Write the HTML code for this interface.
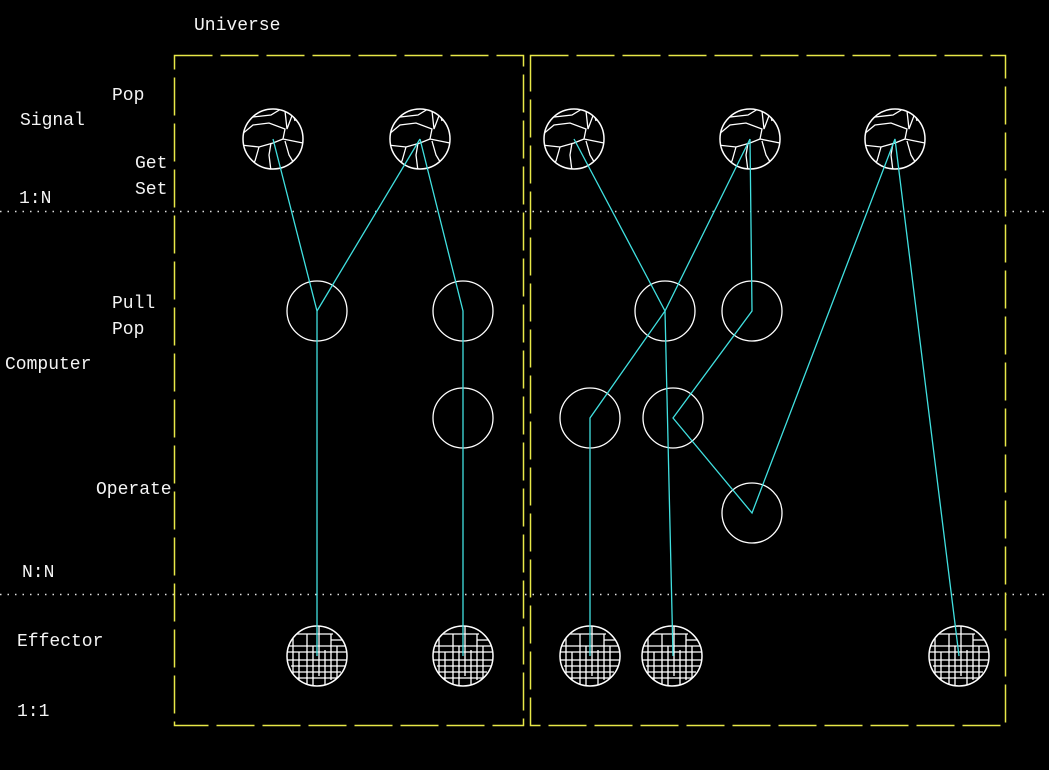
<!DOCTYPE html>
<html><head><meta charset="utf-8"><style>
html,body{margin:0;padding:0;background:#000;}
svg text{font-family:"Liberation Mono","Noto Sans CJK SC",monospace;font-size:18px;fill:#f4f4f4;}
</style></head><body>
<svg id="d" width="1049" height="765" viewBox="0 0 1049 765" xmlns="http://www.w3.org/2000/svg">
<rect width="1049" height="765" fill="#000"/>
<line x1="0" y1="211.5" x2="1049" y2="211.5" stroke="#ddd" stroke-width="1.5" stroke-dasharray="1.5 6"/>
<line x1="0" y1="594.5" x2="1049" y2="594.5" stroke="#ddd" stroke-width="1.5" stroke-dasharray="1.5 6"/>
<rect x="174.5" y="55.5" width="349" height="670" fill="none" stroke="#e8e848" stroke-width="1.5" stroke-dasharray="38 8"/>
<rect x="530.5" y="55.5" width="475" height="670" fill="none" stroke="#e8e848" stroke-width="1.5" stroke-dasharray="38 8"/>
<text x="194" y="30">Universe</text>
<text x="112" y="100">Pop</text>
<text x="20" y="125">Signal</text>
<text x="135" y="168">Get</text>
<text x="135" y="194">Set</text>
<text x="19" y="203">1:N</text>
<text x="112" y="308">Pull</text>
<text x="112" y="334">Pop</text>
<text x="5" y="369">Computer</text>
<text x="96" y="494">Operate</text>
<text x="22" y="577">N:N</text>
<text x="17" y="646">Effector</text>
<text x="17" y="716">1:1</text>
<g id="nodes"></g>
<g id="links"></g>
</svg>
<script>
const NS="http://www.w3.org/2000/svg";
const signals=[[273,139],[420,139],[574,139],[750,139],[895,139]];
const computers=[[317,311],[463,311],[665,311],[752,311],[463,418],[590,418],[673,418],[752,513]];
const effectors=[[317,656],[463,656],[590,656],[672,656],[959,656]];
const paths=[
 [[273,139],[317,311],[317,656]],
 [[420,139],[317,311]],
 [[420,139],[463,311],[463,656]],
 [[574,139],[665,311],[590,418],[590,656]],
 [[750,139],[665,311],[673,656]],
 [[750,139],[752,311],[673,418],[752,513],[895,139],[959,656]]
];
const nodes=document.getElementById('nodes'),links=document.getElementById('links');
function mk(t,a,p){const e=document.createElementNS(NS,t);for(const k in a)e.setAttribute(k,a[k]);p.appendChild(e);return e;}
const R=30;
signals.forEach((c,i)=>{
 const g=mk('g',{},nodes);
 
 
 const [x,y]=c;
 const cp=mk('clipPath',{id:'sp'+i},g);
 mk('circle',{cx:x,cy:y,r:R},cp);
 const inner=mk('g',{'clip-path':'url(#sp'+i+')',fill:'none',stroke:'#fff','stroke-width':1.3},g);
 const cells=[[[-20,-32],[-20,-22],[-2,-24],[8,-30]],[[-32,-4],[-20,-14],[-4,-16],[12,-10],[10,0],[30,4]],[[12,-28],[14,-10],[20,-26],[22,-18]],[[-32,6],[-14,8],[0,4],[10,0]],[[-2,4],[-4,16],[-2,32]],[[-14,8],[-18,22],[-24,26]],[[12,2],[16,16],[22,26]]];
 cells.forEach(pl=>mk('polyline',{points:pl.map(q=>(x+q[0])+','+(y+q[1])).join(' ')},inner));
 mk('circle',{cx:x,cy:y,r:R,fill:'none',stroke:'#fff','stroke-width':1.5},g);
});
computers.forEach(c=>{
 const e=mk('circle',{cx:c[0],cy:c[1],r:R,fill:'none',stroke:'#fff','stroke-width':1.3},nodes);
 
 
});
const vl=[[-24,-22,30],[-10,-22,30],[-4,-10,30],[2,-30,20],[8,-6,30],[14,-22,24],[20,-10,26],[-18,-4,24]];
const hl=[[-22,-24,16],[-10,-30,28],[-4,-30,30],[4,-30,30],[10,-26,30],[16,-24,24],[22,-20,20],[-16,14,26]];
effectors.forEach((c,i)=>{
 const g=mk('g',{},nodes);
 
 
 const [x,y]=c;
 const cp=mk('clipPath',{id:'cp'+i},g);
 mk('circle',{cx:x,cy:y,r:R},cp);
 const inner=mk('g',{'clip-path':'url(#cp'+i+')',stroke:'#fff','stroke-width':1.3},g);
 vl.forEach(d=>mk('line',{x1:x+d[0],y1:y+d[1],x2:x+d[0],y2:y+d[2]},inner));
 hl.forEach(d=>mk('line',{x1:x+d[1],y1:y+d[0],x2:x+d[2],y2:y+d[0]},inner));
 mk('circle',{cx:x,cy:y,r:R,fill:'none',stroke:'#fff','stroke-width':1.5},g);
});
paths.forEach(p=>{
 const e=mk('polyline',{points:p.map(q=>q.join(',')).join(' '),fill:'none',stroke:'#40e0e0','stroke-width':1.3},links);
 
 
});
</script>
</body></html>
